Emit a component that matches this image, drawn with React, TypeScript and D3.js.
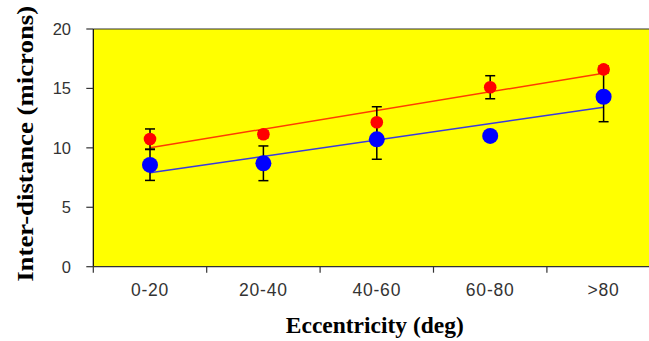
import * as d3 from "d3"

const categories = ["0-20", "20-40", "40-60", "60-80", ">80"]
const redValues = [10.74, 11.14, 12.15, 15.1, 16.6]
const redErrors = [0.85, 0.3, 1.31, 0.97, 0.3]
const blueValues = [8.56, 8.7, 10.72, 11.0, 14.3]
const blueErrors = [1.3, 1.46, 1.68, 0.3, 2.1]
const yTicks = [0, 5, 10, 15, 20]

const W = 649
const H = 341
const margin = { left: 93.3, top: 29, bottom: 74.3 }
const bandW = 113.4

// least squares fit over category index 1..n, like Excel's linear trendline
function linearFit(vals: number[]) {
  const xs = vals.map((_, i) => i + 1)
  const mx = d3.mean(xs) as number
  const my = d3.mean(vals) as number
  const num = d3.sum(xs, (x, i) => (x - mx) * (vals[i] - my))
  const den = d3.sum(xs, (x) => (x - mx) * (x - mx))
  const slope = num / den
  return (x: number) => my + slope * (x - mx)
}

export default function App() {
  const plotW = bandW * categories.length
  const x0 = margin.left
  const x1 = x0 + plotW
  const yTop = margin.top
  const yBot = H - margin.bottom

  const xBand = d3.scaleBand<string>().domain(categories).range([x0, x1])
  const xc = (c: string) => (xBand(c) as number) + xBand.bandwidth() / 2
  const y = d3.scaleLinear().domain([0, 20]).range([yBot, yTop])

  const series = [
    { values: blueValues, errors: blueErrors, color: "#0000ff", line: "#3a3ade", r: 8 },
    { values: redValues, errors: redErrors, color: "#ff0000", line: "#ff3c00", r: 6.3 },
  ]

  return (
    <div style={{ position: "absolute", left: 0, top: 0, width: W, height: H, background: "#fff" }}>
      <svg width={W} height={H} style={{ display: "block" }}>
        <rect x={x0} y={yTop} width={plotW} height={yBot - yTop} fill="#ffff00" />
        <line x1={x0} x2={x1} y1={yTop} y2={yTop} stroke="#333" strokeWidth={1.2} />

        {/* trend lines */}
        {series.map((s, si) => {
          const fit = linearFit(s.values)
          const pts: [number, number][] = [
            [xc(categories[0]), y(fit(1))],
            [xc(categories[categories.length - 1]), y(fit(categories.length))],
          ]
          const path = d3.line()(pts) as string
          return <path key={"t" + si} d={path} stroke={s.line} strokeWidth={1.5} fill="none" />
        })}

        {/* error bars */}
        {series.map((s, si) =>
          categories.map((c, i) => {
            const cx = xc(c)
            const hi = y(s.values[i] + s.errors[i])
            const lo = y(s.values[i] - s.errors[i])
            return (
              <g key={"e" + si + i} stroke="#000" strokeWidth={1.5}>
                <line x1={cx} x2={cx} y1={hi} y2={lo} />
                <line x1={cx - 5} x2={cx + 5} y1={hi} y2={hi} />
                <line x1={cx - 5} x2={cx + 5} y1={lo} y2={lo} />
              </g>
            )
          }),
        )}

        {/* markers */}
        {series.map((s, si) =>
          categories.map((c, i) => (
            <circle key={"m" + si + i} cx={xc(c)} cy={y(s.values[i])} r={s.r} fill={s.color} />
          )),
        )}

        {/* y axis */}
        <line x1={x0} x2={x0} y1={yTop} y2={yBot} stroke="#000" strokeWidth={1.2} />
        {yTicks.map((t) => (
          <g key={"y" + t}>
            <line x1={x0 - 7} x2={x0} y1={y(t)} y2={y(t)} stroke="#333" strokeWidth={1.2} />
            <text
              x={71}
              y={y(t)}
              dy="0.36em"
              textAnchor="end"
              fontFamily="Liberation Sans, Arial, sans-serif"
              fontSize={16.5}
              fill="#333"
            >
              {t}
            </text>
          </g>
        ))}

        {/* x axis */}
        <line x1={x0} x2={x1} y1={yBot} y2={yBot} stroke="#333" strokeWidth={1.2} />
        {categories.map((c) => (
          <line
            key={"xt" + c}
            x1={xBand(c) as number}
            x2={xBand(c) as number}
            y1={yBot}
            y2={yBot + 6}
            stroke="#333"
            strokeWidth={1.2}
          />
        ))}
        {categories.map((c) => (
          <text
            key={"xl" + c}
            x={xc(c)}
            y={295.5}
            textAnchor="middle"
            fontFamily="Liberation Sans, Arial, sans-serif"
            fontSize={17.5}
            letterSpacing={0.8}
            fill="#333"
          >
            {c}
          </text>
        ))}

        <text
          x={(x0 + x1) / 2 - 2}
          y={333}
          textAnchor="middle"
          fontFamily="Liberation Serif, Times New Roman, serif"
          fontWeight="bold"
          fontSize={23.5}
          textLength={178}
          lengthAdjust="spacingAndGlyphs"
          fill="#000"
        >
          Eccentricity (deg)
        </text>
        <text
          transform={`translate(33,${(yTop + yBot) / 2 - 4}) rotate(-90)`}
          textAnchor="middle"
          fontFamily="Liberation Serif, Times New Roman, serif"
          fontWeight="bold"
          fontSize={23.5}
          textLength={276}
          lengthAdjust="spacingAndGlyphs"
          fill="#000"
        >
          Inter-distance (microns)
        </text>
      </svg>
    </div>
  )
}
